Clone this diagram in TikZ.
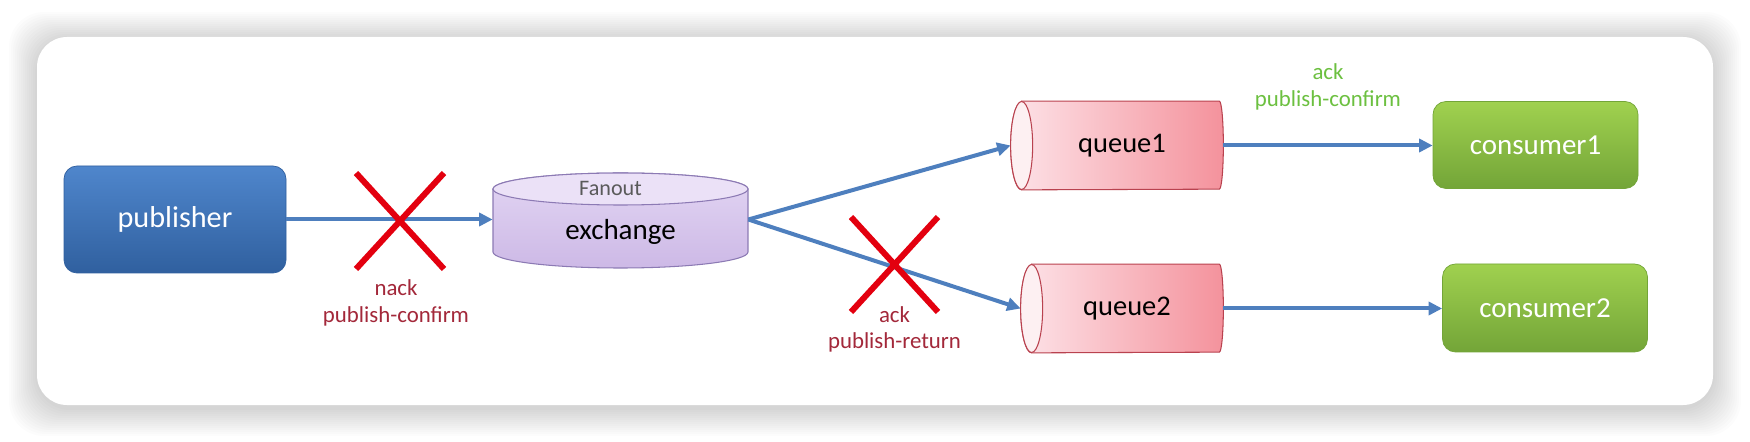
\documentclass[tikz,border=0pt]{standalone}
\usepackage{fontspec}
\setmainfont{Carlito}
\usepackage{tikz}
\usetikzlibrary{positioning,calc,arrows.meta,shapes.misc,backgrounds}
\definecolor{PubTop}{HTML}{4F86CC}
\definecolor{PubBot}{HTML}{30609F}
\definecolor{ConsTop}{HTML}{A0D14F}
\definecolor{ConsBot}{HTML}{73A538}
\definecolor{ExTop}{HTML}{EBE1F7}
\definecolor{ExHi}{HTML}{E2D5F3}
\definecolor{ExLo}{HTML}{CDB9E6}
\definecolor{ExEdge}{HTML}{8C7AB4}
\definecolor{QLeft}{HTML}{FDE3E8}
\definecolor{QRight}{HTML}{F4929C}
\definecolor{QFace}{HTML}{FDF0F2}
\definecolor{QEdge}{HTML}{B9424F}
\definecolor{Flow}{HTML}{4E7FBE}
\definecolor{XRed}{HTML}{E3000F}
\definecolor{LblRed}{HTML}{A3283A}
\definecolor{LblGreen}{HTML}{6CC040}
\definecolor{FanGray}{HTML}{5A5A5A}
\tikzset{
  box/.style={rounded corners=0.26cm,font=\fontsize{16.5}{19}\selectfont,
    text=white,inner sep=0pt},
  pubbox/.style={box,top color=PubTop,bottom color=PubBot,draw=PubBot,
    minimum width=4.44cm,minimum height=2.14cm,font=\fontsize{17.2}{20}\selectfont},
  consbox/.style={box,top color=ConsTop,bottom color=ConsBot,draw=ConsBot,
    minimum width=4.1cm,minimum height=1.74cm},
  qbox/.style={inner sep=0pt,font=\fontsize{16.2}{19}\selectfont,text=black,
    minimum height=1.76cm},
  exbox/.style={inner sep=0pt,font=\fontsize{16.5}{19}\selectfont,text=black,
    minimum width=5.1cm},
  qbody/.style={draw=QEdge,line width=0.6pt,left color=QLeft,right color=QRight},
  qface/.style={draw=QEdge,line width=0.6pt,fill=QFace},
  exbody/.style={draw=ExEdge,line width=0.6pt,top color=ExHi,bottom color=ExLo},
  extop/.style={draw=ExEdge,line width=0.6pt,fill=ExTop},
  flow/.style={-{Triangle[length=0.27cm,width=0.26cm]},draw=Flow,line width=0.08cm},
  xmark/.style={cross out,draw=XRed,line width=0.12cm,inner sep=0pt,
    minimum width=1.64cm,minimum height=1.8cm},
  lblr/.style={font=\fontsize{13}{15.2}\selectfont,text=LblRed,align=center,inner sep=0pt},
  lblg/.style={lblr,text=LblGreen},
  fanlbl/.style={font=\fontsize{12.6}{15}\selectfont,text=FanGray,inner sep=0pt},
}
\newcommand{\qcyl}[1]{%
  \draw[qbody] ([xshift=0.22cm]#1.north west) -- ([xshift=-0.08cm]#1.north east)
    arc[start angle=90,end angle=-90,x radius=0.08cm,y radius=0.88cm]
    -- ([xshift=0.22cm]#1.south west)
    arc[start angle=270,end angle=90,x radius=0.22cm,y radius=0.88cm] -- cycle;
  \draw[qface] ([xshift=0.22cm]#1.west) ellipse[x radius=0.22cm,y radius=0.88cm];}

\begin{document}
\begin{tikzpicture}
\useasboundingbox (0,0) rectangle (35,-8.84);
% card with soft shadow
\begin{scope}[on background layer]
  \foreach \s in {0.04,0.08,...,0.6}
    \fill[black,opacity=0.011,rounded corners=0.7cm]
      (0.74-\s,-0.74+\s-0.06) rectangle (34.26+\s,-8.1-\s-0.06);
  \fill[white,rounded corners=0.6cm] (0.74,-0.74) rectangle (34.26,-8.1);
\end{scope}

\node[pubbox] (pub) at (3.5,-4.39) {publisher};
\node[exbox] (exch) at (12.41,-4.64) {exchange};
\node[qbox,minimum width=4.24cm] (q1) at (22.34,-2.91) {\hspace{0.2cm}queue1};
\node[qbox,minimum width=4.04cm] (q2) at (22.44,-6.17) {\hspace{0.2cm}queue2};
\node[consbox] (c1) at (30.71,-2.9) {consumer1};
\node[consbox,minimum height=1.76cm] (c2) at (30.9,-6.16) {consumer2};

% cylinders behind the texts
\begin{scope}[on background layer]
  \draw[exbody] ($(exch.center)+(-2.55,0.86)$) -- ($(exch.center)+(-2.55,-0.40)$)
    arc[start angle=180,end angle=360,x radius=2.55cm,y radius=0.32cm]
    -- ($(exch.center)+(2.55,0.86)$)
    arc[start angle=0,end angle=180,x radius=2.55cm,y radius=0.32cm] -- cycle;
  \draw[extop] ($(exch.center)+(0,0.86)$) ellipse[x radius=2.55cm,y radius=0.32cm];
  \qcyl{q1}
  \qcyl{q2}
\end{scope}
\node[fanlbl] (fan) at ($(exch.center)+(-0.2,0.88)$) {Fanout};

\coordinate (split) at (exch.east |- pub.east);
\draw[flow] (pub.east) -- (pub.east -| exch.west);
\draw[flow] (split) -- (q1.west);
\draw[flow] (split) -- (q2.west);
\draw[flow] (q1.east) -- (q1.east -| c1.west)
  node[lblg,midway,above=0.67cm] (c1ok) {ack\\publish-confirm};
\draw[flow] (q2.east) -- (q2.east -| c2.west);

\node[xmark] (x1) at (8.0,-4.42) {};
\node[xmark,minimum width=1.62cm,minimum height=1.78cm] (x2) at (17.89,-5.29) {};
\node[lblr,below=0.21cm of x1,xshift=-0.08cm] (nack) {nack\\publish-confirm};
\node[lblr,below=-0.12cm of x2] (ret) {ack\\publish-return};
\end{tikzpicture}
\end{document}
